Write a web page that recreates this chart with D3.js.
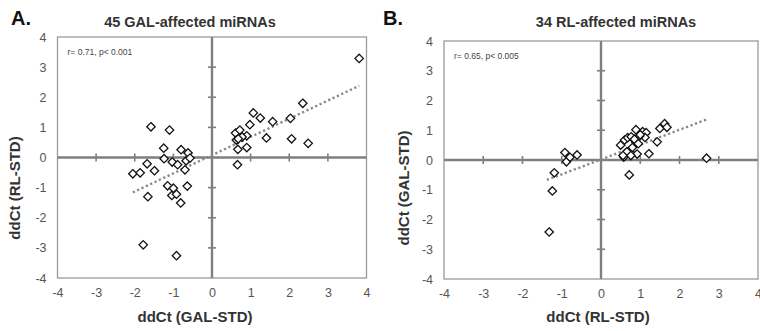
<!DOCTYPE html>
<html><head><meta charset="utf-8">
<script src="https://cdn.jsdelivr.net/npm/d3@7"></script>
<style>
body{margin:0;background:#fff;}
svg{display:block;font-family:Arial,"Liberation Sans",sans-serif;}
</style></head>
<body><svg id="c" width="760" height="331"></svg>
<script>
// ---------- DATA ----------
const tickValues = [-4,-3,-2,-1,0,1,2,3,4];
const tickLabels = ["-4","-3","-2","-1","0","1","2","3","4"];

// Panel A: 45 GAL-affected miRNAs
const aTitle = "45 GAL-affected miRNAs";
const aXLabel = "ddCt (GAL-STD)";
const aYLabel = "ddCt (RL-STD)";
const aStat = "r= 0.71, p< 0.001";
const aX = [3.81,2.35,1.07,1.25,1.57,2.03,0.98,0.61,0.72,0.63,0.90,0.78,1.41,2.06,2.49,0.67,0.90,0.66,0.68,
  -1.58,-1.10,-1.25,-0.80,-0.62,-1.24,-1.03,-0.89,-0.67,-0.57,-1.68,-2.05,-1.86,-1.49,-0.70,-1.15,-1.00,-1.04,-0.92,-0.64,-1.66,-0.81,-1.78,-0.92];
const aY = [3.29,1.80,1.48,1.31,1.19,1.30,1.09,0.81,0.91,0.58,0.72,0.68,0.65,0.62,0.47,0.27,0.33,-0.24,0.62,
  1.02,0.91,0.31,0.26,0.15,-0.04,-0.15,-0.24,-0.11,-0.02,-0.21,-0.54,-0.51,-0.44,-0.41,-0.94,-1.02,-1.26,-1.22,-0.95,-1.30,-1.51,-2.90,-3.26];
const aTrendX = [-2.05,3.81];
const aTrendY = [-1.16,2.38];

// Panel B: 34 RL-affected miRNAs
const bTitle = "34 RL-affected miRNAs";
const bXLabel = "ddCt (RL-STD)";
const bYLabel = "ddCt (GAL-STD)";
const bStat = "r= 0.65, p< 0.005";
const bX = [-1.32,-1.24,-1.19,-0.92,-0.88,-0.79,-0.61,
  2.69,0.72,0.58,0.75,0.92,1.22,1.43,0.50,0.60,0.68,0.77,0.89,1.06,1.15,1.12,0.98,0.89,0.80,1.50,1.62,1.68,0.66,0.76,1.00,0.85,0.56,0.95];
const bY = [-2.42,-1.04,-0.43,0.25,-0.06,0.09,0.17,
  0.06,-0.50,0.10,0.25,0.20,0.21,0.61,0.50,0.67,0.75,0.78,1.02,0.95,0.92,0.76,0.80,0.60,0.42,1.06,1.22,1.10,0.28,0.15,0.85,0.70,0.15,0.55];
const bTrendX = [-1.38,2.71];
const bTrendY = [-0.67,1.37];

// ---------- DRAW ----------
const svg = d3.select("#c");
const AXIS = "#7f7f7f", FRAME = "#9a9a9a", TXT = "#555", TTL = "#333";

function panel(o){
  const g = svg.append("g");
  const x = d3.scaleLinear().domain([-4,4]).range([o.left,o.right]);
  const y = d3.scaleLinear().domain([-4,4]).range([o.bottom,o.top]);
  // frame
  g.append("rect").attr("x",o.left).attr("y",o.top)
    .attr("width",o.right-o.left).attr("height",o.bottom-o.top)
    .attr("fill","none").attr("stroke",FRAME).attr("stroke-width",1.3);
  // zero axes
  g.append("line").attr("x1",x(-4)).attr("x2",x(4)).attr("y1",y(0)).attr("y2",y(0))
    .attr("stroke",AXIS).attr("stroke-width",2.4);
  g.append("line").attr("x1",x(0)).attr("x2",x(0)).attr("y1",y(-4)).attr("y2",y(4))
    .attr("stroke",AXIS).attr("stroke-width",2.4);
  // cross ticks
  const inner = tickValues.filter(v=>v!==0 && Math.abs(v)<4);
  g.selectAll(".tx").data(inner).join("line")
    .attr("x1",d=>x(d)).attr("x2",d=>x(d)).attr("y1",y(0)-4).attr("y2",y(0)+4)
    .attr("stroke",AXIS).attr("stroke-width",1.6);
  g.selectAll(".ty").data(inner).join("line")
    .attr("y1",d=>y(d)).attr("y2",d=>y(d)).attr("x1",x(0)-4).attr("x2",x(0)+4)
    .attr("stroke",AXIS).attr("stroke-width",1.6);
  // tick labels via axes
  const ax = g.append("g").attr("transform",`translate(0,${o.bottom})`)
    .call(d3.axisBottom(x).tickValues(tickValues).tickFormat((d,i)=>tickLabels[i]).tickSize(0).tickPadding(10));
  ax.select(".domain").remove();
  ax.selectAll("text").attr("fill",TXT).attr("font-size",12.5).attr("font-family","Arial,'Liberation Sans',sans-serif");
  const ay = g.append("g").attr("transform",`translate(${o.left},0)`)
    .call(d3.axisLeft(y).tickValues(tickValues).tickFormat((d,i)=>tickLabels[i]).tickSize(0).tickPadding(11));
  ay.select(".domain").remove();
  ay.selectAll("text").attr("fill",TXT).attr("font-size",12.5).attr("font-family","Arial,'Liberation Sans',sans-serif");
  // trend line
  g.append("line").attr("x1",x(o.tx[0])).attr("y1",y(o.ty[0])).attr("x2",x(o.tx[1])).attr("y2",y(o.ty[1]))
    .attr("stroke","#888").attr("stroke-width",2.4).attr("stroke-dasharray","2.2,2.6");
  // points
  const pts = o.px.map((v,i)=>[v,o.py[i]]);
  const r = 4.2;
  g.selectAll(".pt").data(pts).join("path")
    .attr("d",d=>`M${x(d[0])},${y(d[1])-r}L${x(d[0])+r},${y(d[1])}L${x(d[0])},${y(d[1])+r}L${x(d[0])-r},${y(d[1])}Z`)
    .attr("fill","#fff").attr("stroke","#111").attr("stroke-width",1.3);
  // stat text
  g.append("text").attr("x",o.left+10).attr("y",o.top+18).text(o.stat)
    .attr("font-size",8.5).attr("fill","#444");
  // titles
  g.append("text").attr("x",o.titleX).attr("y",27).attr("text-anchor","middle").text(o.title)
    .attr("font-size",14.5).attr("font-weight","bold").attr("fill",TTL);
  g.append("text").attr("x",o.letterX).attr("y",25).text(o.letter)
    .attr("font-size",20).attr("font-weight","bold").attr("fill","#111");
  g.append("text").attr("x",o.xlabX).attr("y",322).attr("text-anchor","middle").text(o.xlab)
    .attr("font-size",15).attr("font-weight","bold").attr("fill",TTL);
  g.append("text").attr("transform",`translate(${o.ylabX},${o.ylabY}) rotate(-90)`)
    .attr("text-anchor","middle").text(o.ylab)
    .attr("font-size",15).attr("font-weight","bold").attr("fill",TTL);
}

panel({left:57.5,right:366.5,top:37,bottom:278,px:aX,py:aY,tx:aTrendX,ty:aTrendY,stat:aStat,
  title:aTitle,titleX:190,letter:"A.",letterX:11,xlab:aXLabel,xlabX:195,ylab:aYLabel,ylabX:20,ylabY:188});
panel({left:444,right:758,top:41,bottom:279,px:bX,py:bY,tx:bTrendX,ty:bTrendY,stat:bStat,
  title:bTitle,titleX:616,letter:"B.",letterX:383,xlab:bXLabel,xlabX:598,ylab:bYLabel,ylabX:409,ylabY:188});
</script></body></html>
